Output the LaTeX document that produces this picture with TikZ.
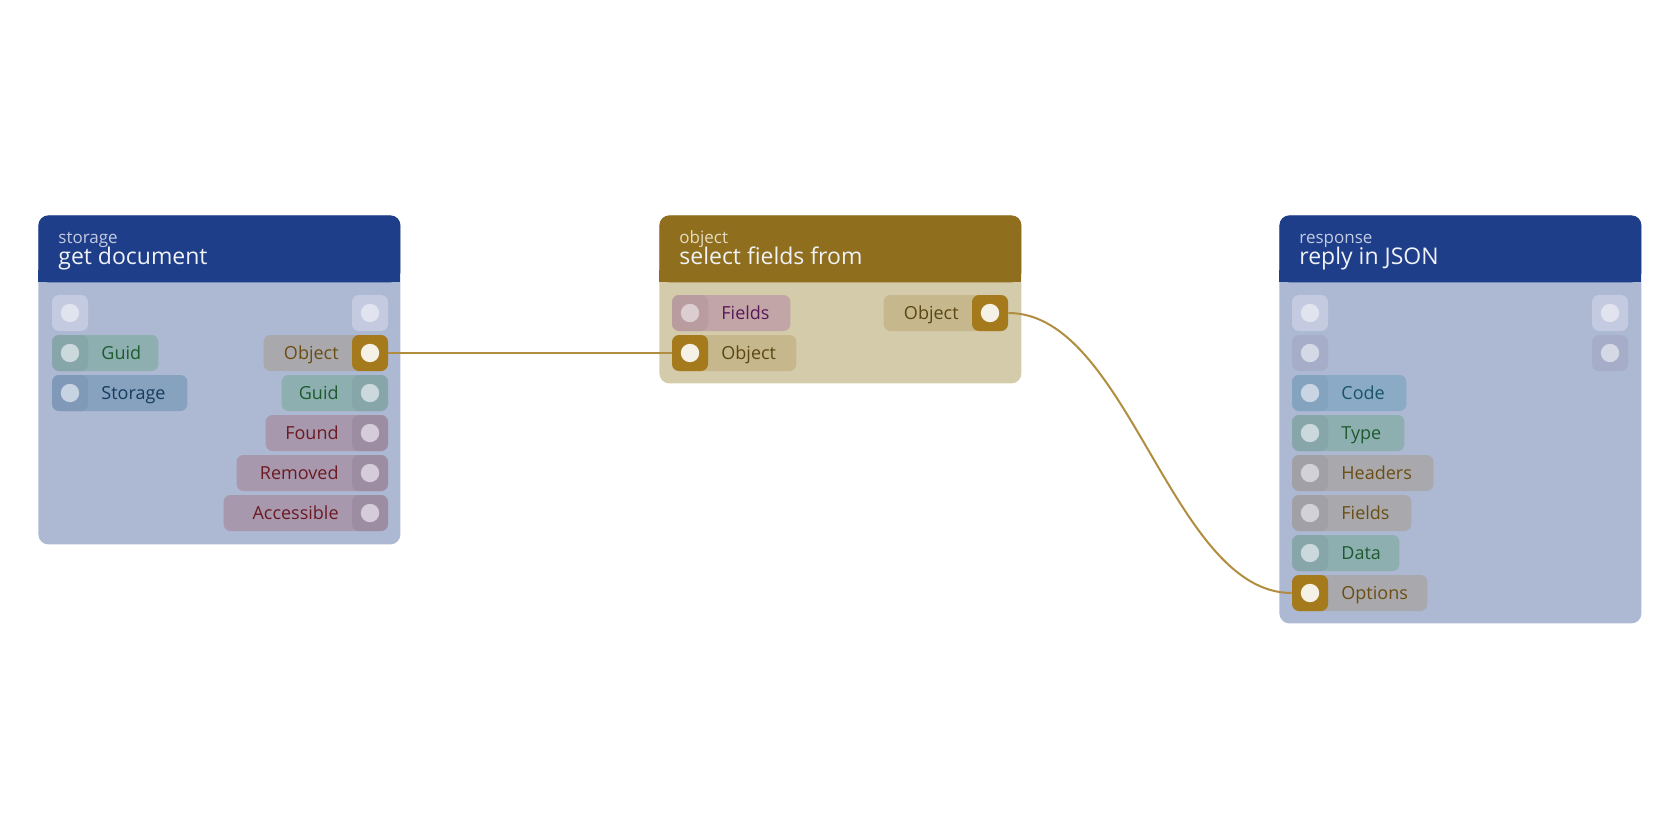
\documentclass[tikz,border=0pt]{standalone}
\usepackage{fontspec}
\setmainfont{Open Sans}
\usepackage{xcolor}
\usepackage{tikz}
\usetikzlibrary{positioning}

% Farben
\definecolor{hdrblue}{HTML}{1F3E89}
\definecolor{bodyblue}{HTML}{ADB8D3}
\definecolor{hdrgold}{HTML}{8F6F1E}
\definecolor{bodygold}{HTML}{D4CBAB}
\definecolor{catblue}{HTML}{C3CBE2}
\definecolor{catgold}{HTML}{E4DBC2}
\definecolor{titlewhite}{HTML}{F0F2F7}
\definecolor{wiregold}{HTML}{B08D3F}
\definecolor{portgold}{HTML}{A47A1C}
\definecolor{dotcream}{HTML}{F6F1E6}
\definecolor{emptyport}{HTML}{C4CADF}
\definecolor{emptydot}{HTML}{E1E3EE}
\definecolor{darkport}{HTML}{A5ADC8}
\definecolor{darkdot}{HTML}{D5D9E6}
\definecolor{greenpill}{HTML}{8EAFB0}
\definecolor{greenport}{HTML}{86A6A9}
\definecolor{greendot}{HTML}{CBD8DC}
\definecolor{greentext}{HTML}{1D5A2F}
\definecolor{storepill}{HTML}{87A2BF}
\definecolor{storeport}{HTML}{8199B8}
\definecolor{storedot}{HTML}{C7D2E2}
\definecolor{storetext}{HTML}{163C5E}
\definecolor{graypill}{HTML}{A9A9AD}
\definecolor{grayport}{HTML}{A0A0A6}
\definecolor{graydot}{HTML}{D2D2D6}
\definecolor{browntext}{HTML}{6B4D12}
\definecolor{mauvepill}{HTML}{A898AE}
\definecolor{mauveport}{HTML}{9D8DA3}
\definecolor{mauvedot}{HTML}{D5CBD9}
\definecolor{redtext}{HTML}{6B1A22}
\definecolor{codepill}{HTML}{8AAAC6}
\definecolor{codeport}{HTML}{84A3BF}
\definecolor{codedot}{HTML}{C9D5E2}
\definecolor{codetext}{HTML}{1A5468}
\definecolor{rosepill}{HTML}{C2A5A7}
\definecolor{roseport}{HTML}{B99C9F}
\definecolor{rosedot}{HTML}{DCCDD0}
\definecolor{purpletext}{HTML}{5A1858}
\definecolor{sandpill}{HTML}{C6B88C}
\definecolor{sandtext}{HTML}{5C4612}

\begin{document}
\begin{tikzpicture}[
        x=0.5pt, y=-0.5pt,
        card/.style={anchor=north west, inner sep=0pt, rounded corners=5pt, minimum width=181pt},
        hdr/.style={anchor=north west, inner sep=0pt, rounded corners=5pt, minimum width=181pt, minimum height=33.5pt},
        hdrcat/.style={anchor=base west, inner sep=0pt, font=\fontsize{8.5}{10}\selectfont},
        hdrtitle/.style={anchor=base west, inner sep=0pt, text=titlewhite, font=\fontsize{11.5}{13}\selectfont},
        pill/.style={minimum height=18pt, inner sep=0pt, rounded corners=3.5pt, text height=6.4pt, text depth=0pt,
            font=\fontsize{9}{11}\selectfont},
        inpill/.style={pill, anchor=west, align=left, execute at begin node={\hspace*{24.5pt}}},
        outpill/.style={pill, anchor=east, align=right, execute at end node={\hspace*{24.5pt}\null}},
        port/.style 2 args={minimum size=18pt, inner sep=0pt, rounded corners=3.5pt, fill=#1,
            path picture={\fill[#2] (path picture bounding box.center) circle (4.6pt);}},
        wire/.style={draw=wiregold, line width=1pt}
    ]
    \useasboundingbox (0,0) rectangle (1680,840);

    % Karte: get document
    \node[card, fill=bodyblue, minimum height=164.5pt] (getdoc) at (38,215) {};
    \node[hdr, fill=hdrblue] (getdochdr) at (38,215) {};
    \fill[hdrblue] (38,270) rectangle (400,282);
    \node[hdrcat, text=catblue] (getdoccat) at (58,243) {storage};
    \node[hdrtitle] (getdoctitle) at (58,264) {get document};

    \node[port={emptyport}{emptydot}] (gdinA) at (70,313) {};
    \node[port={emptyport}{emptydot}] (gdoutA) at (370,313) {};

    \node[inpill, fill=greenpill, text=greentext, text width=53pt] (gdguid) at (52,353) {Guid};
    \node[port={greenport}{greendot}] (gdinguid) at (70,353) {};
    \node[inpill, fill=storepill, text=storetext, text width=67.5pt] (gdstore) at (52,393) {Storage};
    \node[port={storeport}{storedot}] (gdinstore) at (70,393) {};

    \node[outpill, fill=graypill, text=browntext, text width=62pt] (gdobj) at (388,353) {Object};
    \node[port={portgold}{dotcream}] (gdoutobj) at (370,353) {};
    \node[outpill, fill=greenpill, text=greentext, text width=53pt] (gdguidout) at (388,393) {Guid};
    \node[port={greenport}{greendot}] (gdoutguid) at (370,393) {};
    \node[outpill, fill=mauvepill, text=redtext, text width=61pt] (gdfound) at (388,433) {Found};
    \node[port={mauveport}{mauvedot}] (gdoutfound) at (370,433) {};
    \node[outpill, fill=mauvepill, text=redtext, text width=75.5pt] (gdremoved) at (388,473) {Removed};
    \node[port={mauveport}{mauvedot}] (gdoutremoved) at (370,473) {};
    \node[outpill, fill=mauvepill, text=redtext, text width=82pt] (gdaccess) at (388,513) {Accessible};
    \node[port={mauveport}{mauvedot}] (gdoutaccess) at (370,513) {};

    % Karte: select fields from
    \node[card, fill=bodygold, minimum height=84pt] (selfields) at (659,215) {};
    \node[hdr, fill=hdrgold] (selfieldshdr) at (659,215) {};
    \fill[hdrgold] (659,270) rectangle (1021,282);
    \node[hdrcat, text=catgold] (selfieldscat) at (679,243) {object};
    \node[hdrtitle] (selfieldstitle) at (679,264) {select fields from};

    \node[inpill, fill=rosepill, text=purpletext, text width=59pt] (sffields) at (672,313) {Fields};
    \node[port={roseport}{rosedot}] (sfinfields) at (690,313) {};
    \node[inpill, fill=sandpill, text=sandtext, text width=62pt] (sfobj) at (672,353) {Object};
    \node[port={portgold}{dotcream}] (sfinobj) at (690,353) {};

    \node[outpill, fill=sandpill, text=sandtext, text width=62pt] (sfobjout) at (1008,313) {Object};
    \node[port={portgold}{dotcream}] (sfoutobj) at (990,313) {};

    % Karte: reply in JSON
    \node[card, fill=bodyblue, minimum height=204pt] (reply) at (1279,215) {};
    \node[hdr, fill=hdrblue] (replyhdr) at (1279,215) {};
    \fill[hdrblue] (1279,270) rectangle (1641,282);
    \node[hdrcat, text=catblue] (replycat) at (1299,243) {response};
    \node[hdrtitle] (replytitle) at (1299,264) {reply in JSON};

    \node[port={emptyport}{emptydot}] (rpinA) at (1310,313) {};
    \node[port={emptyport}{emptydot}] (rpoutA) at (1610,313) {};
    \node[port={darkport}{darkdot}] (rpinB) at (1310,353) {};
    \node[port={darkport}{darkdot}] (rpoutB) at (1610,353) {};

    \node[inpill, fill=codepill, text=codetext, text width=57pt] (rpcode) at (1292,393) {Code};
    \node[port={codeport}{codedot}] (rpincode) at (1310,393) {};
    \node[inpill, fill=greenpill, text=greentext, text width=56pt] (rptype) at (1292,433) {Type};
    \node[port={greenport}{greendot}] (rpintype) at (1310,433) {};
    \node[inpill, fill=graypill, text=browntext, text width=70.5pt] (rpheaders) at (1292,473) {Headers};
    \node[port={grayport}{graydot}] (rpinheaders) at (1310,473) {};
    \node[inpill, fill=graypill, text=browntext, text width=59.5pt] (rpfields) at (1292,513) {Fields};
    \node[port={grayport}{graydot}] (rpinfields) at (1310,513) {};
    \node[inpill, fill=greenpill, text=greentext, text width=53.5pt] (rpdata) at (1292,553) {Data};
    \node[port={greenport}{greendot}] (rpindata) at (1310,553) {};
    \node[inpill, fill=graypill, text=browntext, text width=67.5pt] (rpoptions) at (1292,593) {Options};
    \node[port={portgold}{dotcream}] (rpinoptions) at (1310,593) {};

    % Verbindungen
    \draw[wire] (gdoutobj.east) -- (sfinobj.west);
    \draw[wire] (sfoutobj.east) .. controls +(60pt,0) and +(-60pt,0) .. (rpinoptions.west);

\end{tikzpicture}
\end{document}
